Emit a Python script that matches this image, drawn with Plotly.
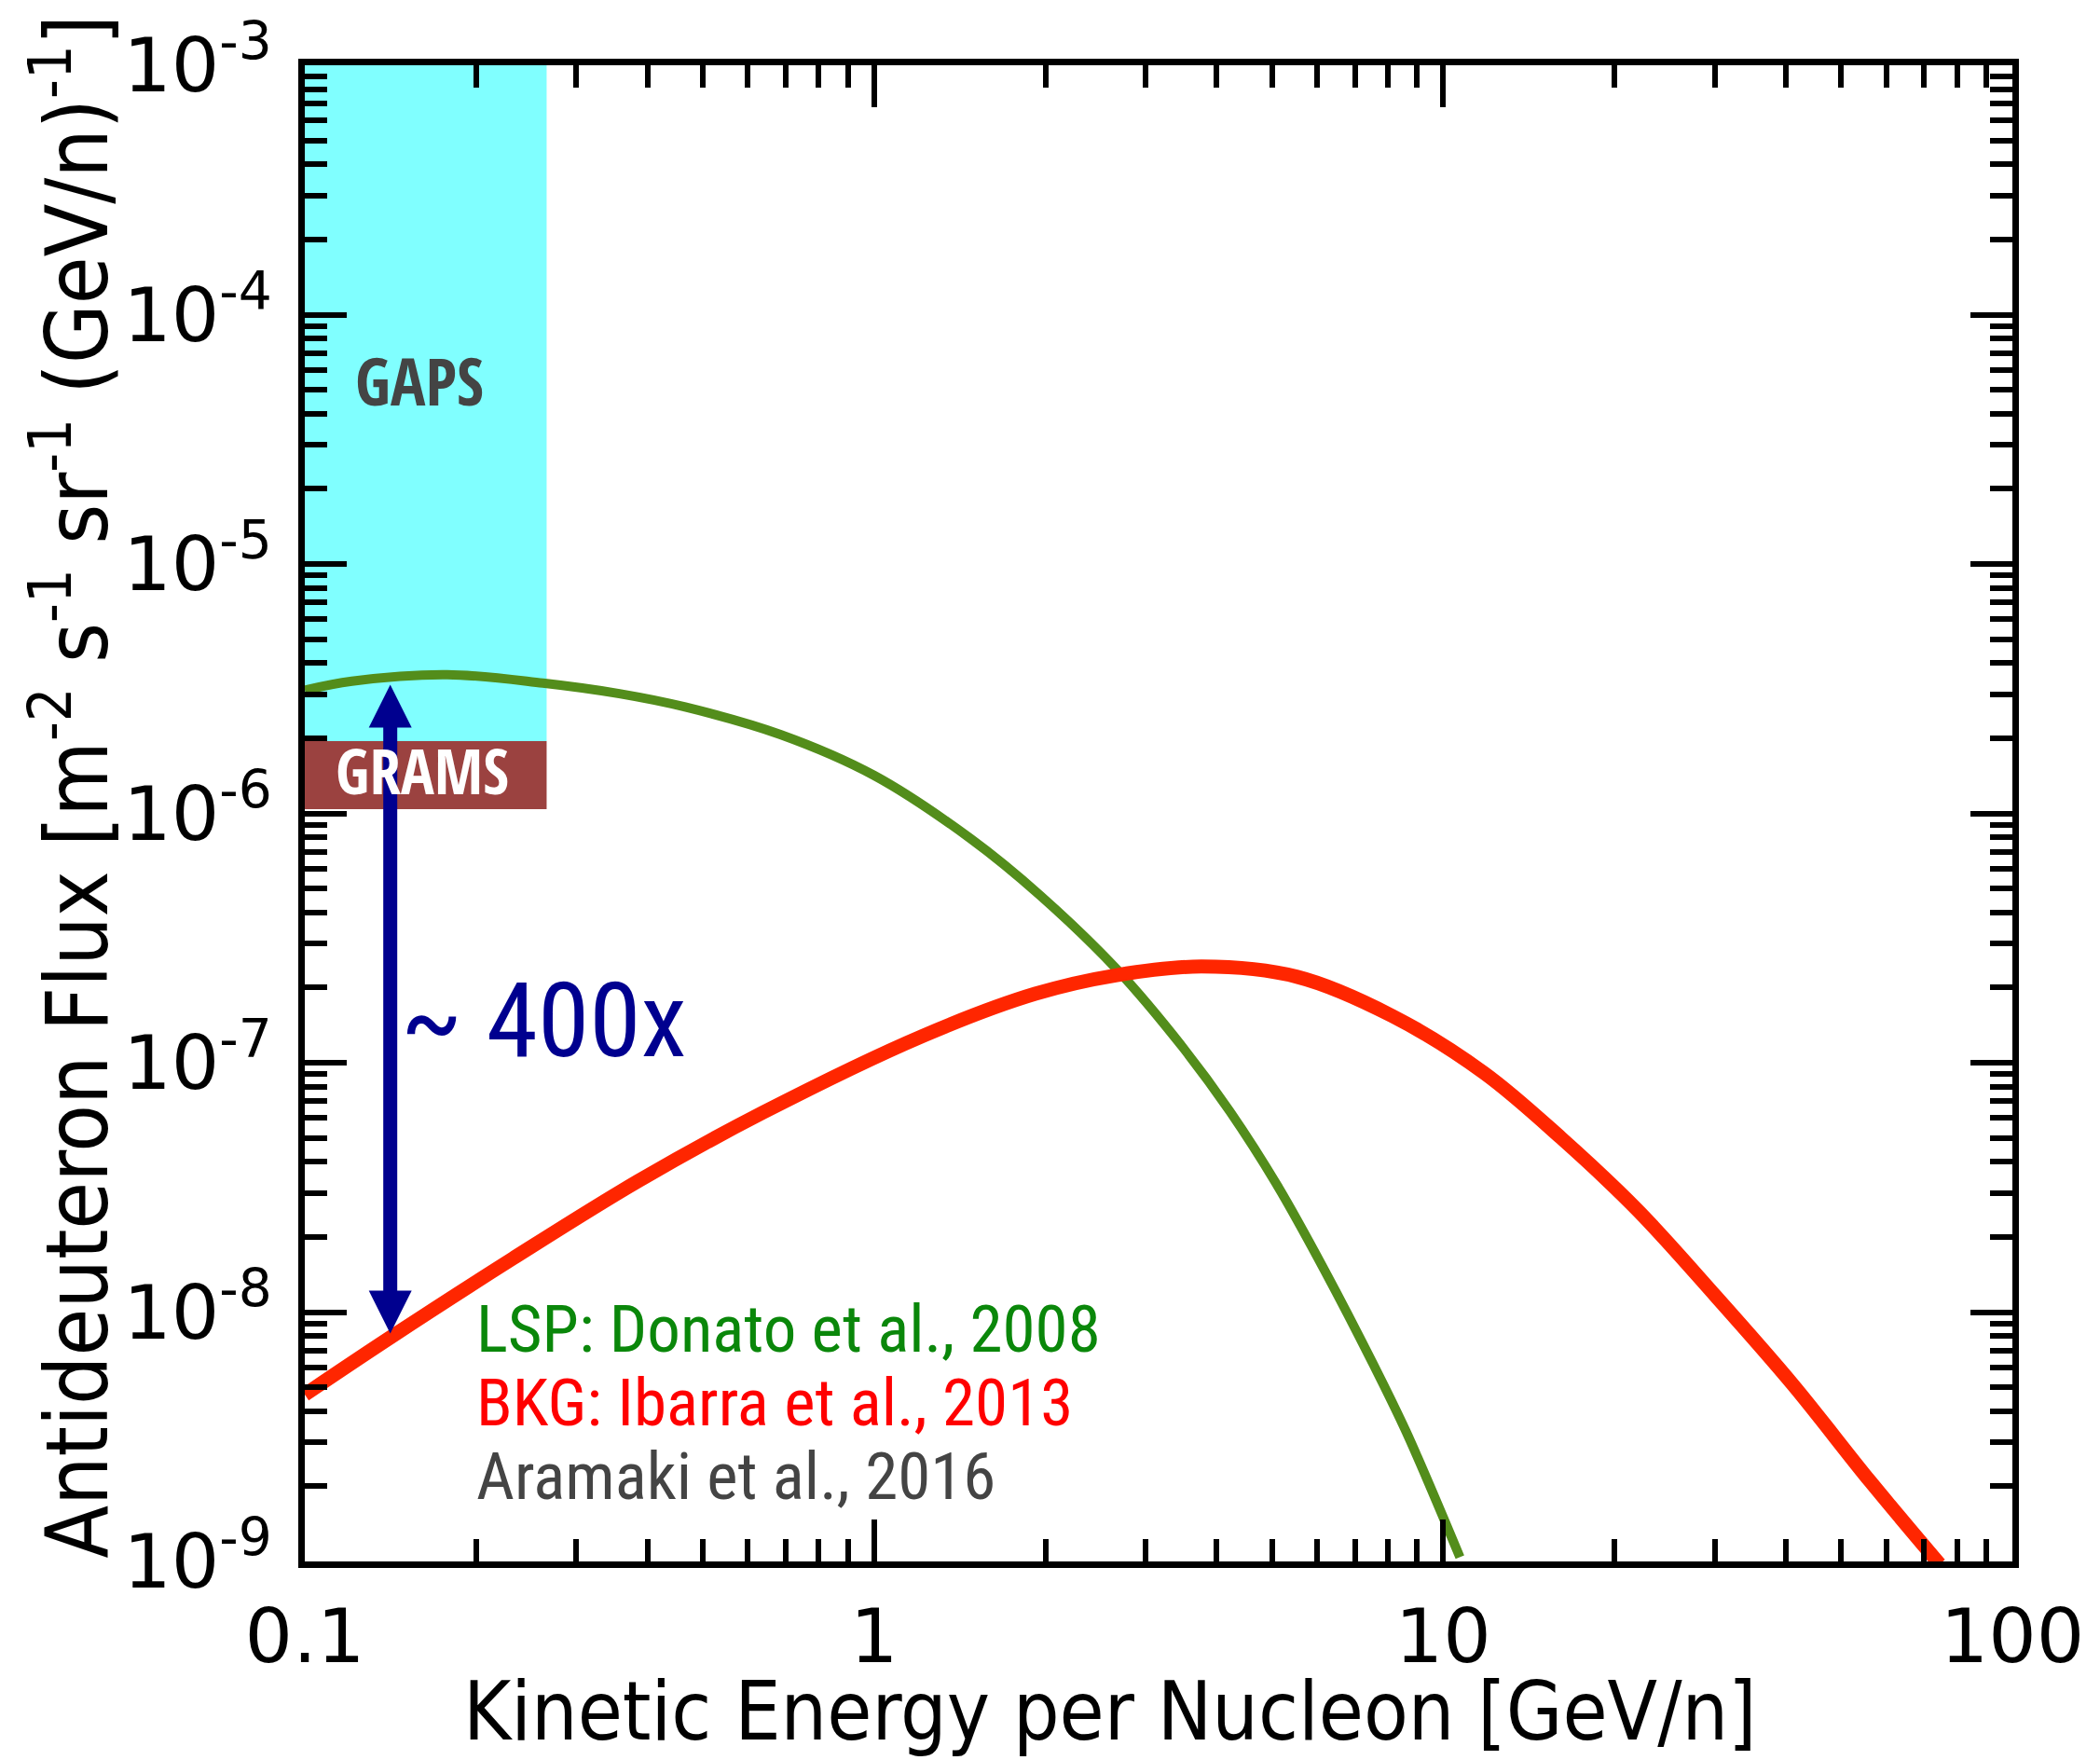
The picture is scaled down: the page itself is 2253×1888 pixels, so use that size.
import numpy as np
import plotly.graph_objects as go

# ---------------- data ----------------
lsp_energy = [0.1, 0.121, 0.178, 0.262, 0.357, 0.466, 0.685, 1.0, 1.48, 1.96, 2.67,
              3.48, 4.22, 5.12, 6.2, 7.52, 8.61, 10.7]
lsp_flux = [3.12e-6, 3.39e-6, 3.60e-6, 3.33e-6, 3.02e-6, 2.67e-6, 2.07e-6, 1.42e-6,
            7.9e-7, 4.68e-7, 2.37e-7, 1.16e-7, 6.38e-8, 3.2e-8, 1.46e-8, 6.24e-9, 3.31e-9, 1.04e-9]

bkg_energy = [0.1, 0.14, 0.232, 0.385, 0.637, 1.22, 1.92, 2.67, 3.77, 5.54, 8.14,
              11.8, 16.1, 22.0, 30.1, 41.2, 56.2, 74.5]
bkg_flux = [4.67e-9, 7.8e-9, 1.64e-8, 3.35e-8, 6.3e-8, 1.283e-7, 1.89e-7, 2.245e-7, 2.43e-7,
            2.21e-7, 1.54e-7, 9.1e-8, 5.0e-8, 2.55e-8, 1.16e-8, 5.1e-9, 2.1e-9, 9.75e-10]

gaps_energy = [0.1, 0.266]
gaps_flux = [1.95e-6, 1e-3]
grams_energy = [0.1, 0.266]
grams_flux = [1.04e-6, 1.95e-6]

arrow_energy = 0.1413
arrow_flux = [3.28e-6, 8.2e-9]   # top tip, bottom tip

x_tickvals = [0.1, 1, 10, 100]
x_ticktext = ["0.1", "1", "10", "100"]
y_tickvals = [1e-9, 1e-8, 1e-7, 1e-6, 1e-5, 1e-4, 1e-3]
y_ticktext = ["10<sup>-9</sup>", "10<sup>-8</sup>", "10<sup>-7</sup>", "10<sup>-6</sup>",
              "10<sup>-5</sup>", "10<sup>-4</sup>", "10<sup>-3</sup>"]

# ---------------- style ----------------
W, H = 2253, 1888
ML, MR, MT, MB = 319, 102, 62, 221
plot_h = H - MT - MB
y_decades = 6
px_per_decade = plot_h / y_decades

TICK_FONT = dict(family="DejaVu Sans", size=81, color="black")
NAVY = "#00008f"

fig = go.Figure()

fig.add_trace(go.Scatter(x=lsp_energy, y=lsp_flux, mode="lines",
                         line=dict(color="#538d1b", width=10, shape="spline", smoothing=1.0),
                         showlegend=False))
fig.add_trace(go.Scatter(x=bkg_energy, y=bkg_flux, mode="lines",
                         line=dict(color="#ff2600", width=15, shape="spline", smoothing=1.0),
                         showlegend=False))

# sensitivity boxes
fig.add_shape(type="rect", xref="x", yref="y", x0=gaps_energy[0], x1=gaps_energy[1],
              y0=gaps_flux[0], y1=gaps_flux[1], fillcolor="#80ffff", line=dict(width=0), layer="below")
fig.add_shape(type="rect", xref="x", yref="y", x0=grams_energy[0], x1=grams_energy[1],
              y0=grams_flux[0], y1=grams_flux[1], fillcolor="#9b4240", line=dict(width=0), layer="below")

# double arrow
head_h, head_w = 46, 46
inset = head_h - 6
top_shaft = arrow_flux[0] * 10 ** (-inset / px_per_decade)
bot_shaft = arrow_flux[1] * 10 ** (inset / px_per_decade)
fig.add_shape(type="line", xref="x", yref="y", x0=arrow_energy, x1=arrow_energy,
              y0=bot_shaft, y1=top_shaft, line=dict(color=NAVY, width=15))
fig.add_shape(type="path", xref="x", yref="y", xsizemode="pixel", ysizemode="pixel",
              xanchor=arrow_energy, yanchor=arrow_flux[0],
              path=f"M {-head_w/2},{-head_h} L {head_w/2},{-head_h} L 0,0 Z",
              fillcolor=NAVY, line=dict(width=0))
fig.add_shape(type="path", xref="x", yref="y", xsizemode="pixel", ysizemode="pixel",
              xanchor=arrow_energy, yanchor=arrow_flux[1],
              path=f"M {-head_w/2},{head_h} L {head_w/2},{head_h} L 0,0 Z",
              fillcolor=NAVY, line=dict(width=0))

# labels in plot
fig.add_annotation(x=np.log10(0.159), y=-4.265, xref="x", yref="y", text="GAPS", showarrow=False,
                   font=dict(family="Open Sans Condensed", size=70, color="#444444"))
fig.add_annotation(x=np.log10(0.161), y=-5.826, xref="x", yref="y", text="GRAMS", showarrow=False,
                   font=dict(family="Open Sans Condensed", size=67, color="white"))
fig.add_annotation(x=-0.835, y=-6.829, xref="x", yref="y", text="~ 400x", showarrow=False,
                   xanchor="left", font=dict(family="Roboto Condensed", size=112, color=NAVY))
fig.add_annotation(x=-0.702, y=-8.068, xref="x", yref="y", text="LSP: Donato et al., 2008",
                   showarrow=False, xanchor="left",
                   font=dict(family="Roboto Condensed", size=71, color="#0a870a"))
fig.add_annotation(x=-0.702, y=-8.363, xref="x", yref="y", text="BKG: Ibarra et al., 2013",
                   showarrow=False, xanchor="left",
                   font=dict(family="Roboto Condensed", size=71, color="#ff0000"))
fig.add_annotation(x=-0.702, y=-8.659, xref="x", yref="y", text="Aramaki et al., 2016",
                   showarrow=False, xanchor="left",
                   font=dict(family="Roboto Condensed", size=71, color="#444444"))

# axis titles
fig.add_annotation(x=0.4715, y=-0.1, xref="paper", yref="paper", showarrow=False,
                   text="Kinetic Energy per Nucleon [GeV/n]",
                   font=dict(family="DejaVu Sans Condensed", size=87, color="black"),
                   xanchor="center", yanchor="middle")
fig.add_annotation(x=-0.1365, y=0.518, xref="paper", yref="paper", showarrow=False, textangle=-90,
                   text="Antideuteron Flux [m<sup>-2</sup> s<sup>-1</sup> sr<sup>-1</sup> (GeV/n)<sup>-1</sup>]",
                   font=dict(family="DejaVu Sans Condensed", size=92, color="black"),
                   xanchor="center", yanchor="middle")

minor_x = [k * 10.0 ** n for n in range(-1, 2) for k in range(2, 10)]
minor_y = [k * 10.0 ** n for n in range(-9, -3) for k in range(2, 10)]

axis_common = dict(type="log", showline=True, linecolor="black", linewidth=7, mirror="allticks",
                   ticks="inside", ticklen=45, tickwidth=6, tickcolor="black", automargin=False,
                   showgrid=False, zeroline=False, tickfont=TICK_FONT, tickmode="array")

fig.update_xaxes(range=[-1, 2], tickvals=x_tickvals, ticktext=x_ticktext, ticklabelstandoff=4,
                 minor=dict(ticks="inside", ticklen=24, tickwidth=6, tickcolor="black",
                            tickmode="array", tickvals=minor_x, showgrid=False),
                 **axis_common)
fig.update_yaxes(range=[-9, -3], tickvals=y_tickvals, ticktext=y_ticktext, ticklabelstandoff=12,
                 minor=dict(ticks="inside", ticklen=24, tickwidth=6, tickcolor="black",
                            tickmode="array", tickvals=minor_y, showgrid=False),
                 **axis_common)

fig.update_layout(width=W, height=H, margin=dict(l=ML, r=MR, t=MT, b=MB),
                  plot_bgcolor="white", paper_bgcolor="white", showlegend=False)

fig.write_html("out.html")
